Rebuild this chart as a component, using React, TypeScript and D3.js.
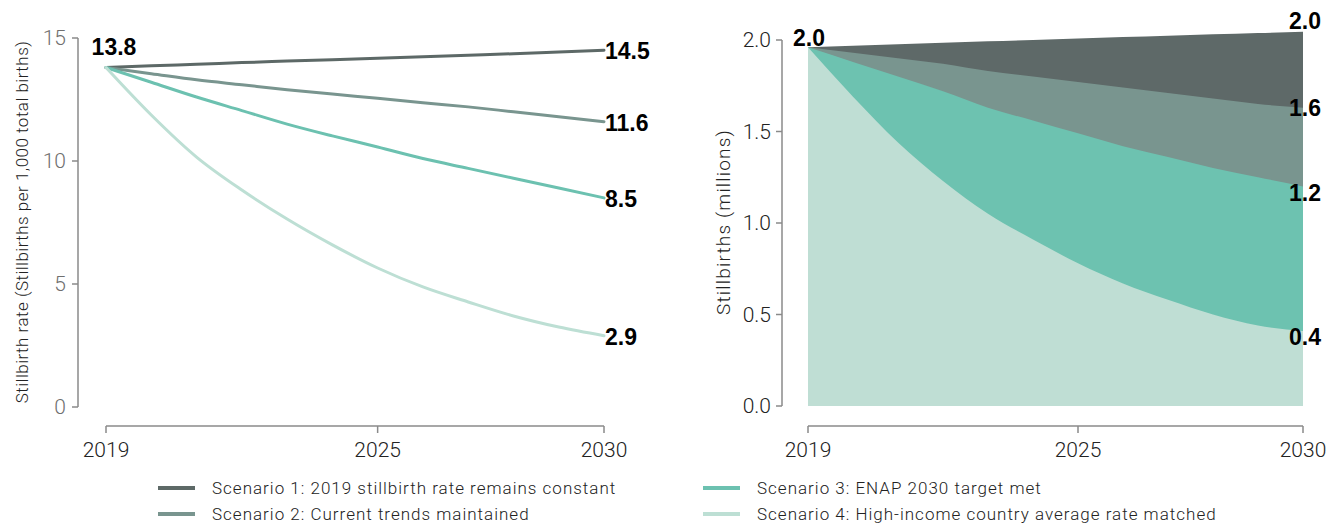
import React from "react";
import * as d3 from "d3";

const years = [2019, 2020, 2021, 2022, 2023, 2024, 2025, 2026, 2027, 2028, 2029, 2030];
const xTicks = [2019, 2025, 2030];

// Left: stillbirth rate per 1,000 total births
const rateS1 = [13.8, 13.87, 13.93, 14.0, 14.06, 14.12, 14.18, 14.24, 14.3, 14.36, 14.43, 14.5];
const rateS2 = [13.8, 13.55, 13.3, 13.1, 12.9, 12.72, 12.55, 12.37, 12.2, 12.0, 11.8, 11.6];
const rateS3 = [13.8, 13.2, 12.6, 12.05, 11.5, 11.02, 10.57, 10.1, 9.7, 9.3, 8.9, 8.5];
const rateS4 = [13.8, 11.87, 10.16, 8.82, 7.64, 6.59, 5.65, 4.88, 4.27, 3.7, 3.25, 2.9];
const rateTicks = [0, 5, 10, 15];

// Right: stillbirths (millions)
const countS1 = [1.96, 1.968, 1.977, 1.985, 1.993, 2.0, 2.008, 2.016, 2.023, 2.031, 2.038, 2.045];
const countS2 = [1.96, 1.93, 1.9, 1.87, 1.83, 1.8, 1.77, 1.74, 1.71, 1.68, 1.65, 1.63];
const countS3 = [1.96, 1.88, 1.8, 1.72, 1.63, 1.56, 1.49, 1.42, 1.36, 1.3, 1.25, 1.2];
const countS4 = [1.96, 1.69, 1.44, 1.23, 1.05, 0.91, 0.78, 0.67, 0.58, 0.5, 0.44, 0.41];
const countTicks = [0, 0.5, 1.0, 1.5, 2.0];

const seriesNames = [
  "Scenario 1: 2019 stillbirth rate remains constant",
  "Scenario 2: Current trends maintained",
  "Scenario 3: ENAP 2030 target met",
  "Scenario 4: High-income country average rate matched",
];
const lineColors = ["#5d6967", "#79958f", "#6cc1b0", "#bddfd4"];
const areaColors = ["#5e6968", "#79958f", "#6dc2b0", "#bfded4"];

const rateLabels = ["14.5", "11.6", "8.5", "2.9"];
const countLabels = ["2.0", "1.6", "1.2", "0.4"];

const LIGHT = "Roboto, 'Liberation Sans', sans-serif";
const BOLD = "'Liberation Sans', Arial, sans-serif";
const AXIS = "#8a8a8a";

export default function App() {
  const rateSeries = [rateS1, rateS2, rateS3, rateS4];
  const countSeries = [countS1, countS2, countS3, countS4];

  const xL = d3.scaleLinear().domain([2019, 2030]).range([106, 604]);
  const yL = d3.scaleLinear().domain([0, 15]).range([407, 38]);
  const xR = d3.scaleLinear().domain([2019, 2030]).range([808, 1303]);
  const yR = d3.scaleLinear().domain([0, 2]).range([406, 40]);

  const line = (vals: number[]) =>
    d3
      .line<number>()
      .x((_, i) => xL(years[i]))
      .y((v) => yL(v))
      .curve(d3.curveMonotoneX)(vals) as string;

  const area = (vals: number[]) =>
    d3
      .area<number>()
      .x((_, i) => xR(years[i]))
      .y0(yR(0))
      .y1((v) => yR(v))
      .curve(d3.curveMonotoneX)(vals) as string;

  const labelOffsetsR = [-11, 0, 7, 6];

  return (
    <svg
      width={1327}
      height={525}
      style={{ position: "absolute", left: 0, top: 0, background: "#fff" }}
    >
      {/* LEFT CHART */}
      <g>
        <line x1={78} x2={78} y1={yL(15)} y2={yL(0)} stroke={AXIS} strokeWidth={1.5} />
        {rateTicks.map((t) => (
          <g key={t}>
            <line x1={72} x2={78} y1={yL(t)} y2={yL(t)} stroke={AXIS} strokeWidth={1.5} />
            <text
              x={66}
              y={yL(t)}
              textAnchor="end"
              dominantBaseline="central"
              fontFamily={LIGHT}
              fontWeight={300}
              fontSize={21}
              fill="#6f6f6f"
            >
              {t}
            </text>
          </g>
        ))}
        <line x1={xL(2019)} x2={xL(2030)} y1={426} y2={426} stroke={AXIS} strokeWidth={1.5} />
        {xTicks.map((t) => (
          <g key={t}>
            <line x1={xL(t)} x2={xL(t)} y1={426} y2={433} stroke={AXIS} strokeWidth={1.5} />
            <text
              x={xL(t)}
              y={450}
              textAnchor="middle"
              dominantBaseline="central"
              fontFamily={LIGHT}
              fontWeight={300}
              fontSize={21}
              fill="#222"
            >
              {t}
            </text>
          </g>
        ))}
        <text
          transform={`translate(22,222) rotate(-90)`}
          textAnchor="middle"
          dominantBaseline="central"
          fontFamily={LIGHT}
          fontWeight={300}
          fontSize={17}
          letterSpacing={0.5}
          fill="#222"
        >
          Stillbirth rate (Stillbirths per 1,000 total births)
        </text>
        {rateSeries.map((vals, i) => (
          <path
            key={i}
            d={line(vals)}
            fill="none"
            stroke={lineColors[i]}
            strokeWidth={3}
            strokeLinecap="round"
          />
        ))}
        <text
          x={114}
          y={47}
          textAnchor="middle"
          dominantBaseline="central"
          fontFamily={BOLD}
          fontWeight={700}
          fontSize={23}
          fill="#000"
        >
          {rateS1[0].toFixed(1)}
        </text>
        {rateSeries.map((vals, i) => (
          <text
            key={i}
            x={xL(2030) + 1}
            y={yL(vals[vals.length - 1]) + 1}
            textAnchor="start"
            dominantBaseline="central"
            fontFamily={BOLD}
            fontWeight={700}
            fontSize={23}
            fill="#000"
          >
            {rateLabels[i]}
          </text>
        ))}
      </g>

      {/* RIGHT CHART */}
      <g>
        {countSeries.map((vals, i) => (
          <path key={i} d={area(vals)} fill={areaColors[i]} stroke="none" />
        ))}
        <line x1={782} x2={782} y1={yR(2)} y2={yR(0)} stroke={AXIS} strokeWidth={1.5} />
        {countTicks.map((t) => (
          <g key={t}>
            <line x1={776} x2={782} y1={yR(t)} y2={yR(t)} stroke={AXIS} strokeWidth={1.5} />
            <text
              x={771}
              y={yR(t)}
              textAnchor="end"
              dominantBaseline="central"
              fontFamily={LIGHT}
              fontWeight={300}
              fontSize={21}
              fill="#222"
            >
              {t.toFixed(1)}
            </text>
          </g>
        ))}
        <line x1={xR(2019)} x2={xR(2030)} y1={426} y2={426} stroke={AXIS} strokeWidth={1.5} />
        {xTicks.map((t) => (
          <g key={t}>
            <line x1={xR(t)} x2={xR(t)} y1={426} y2={433} stroke={AXIS} strokeWidth={1.5} />
            <text
              x={xR(t)}
              y={450}
              textAnchor="middle"
              dominantBaseline="central"
              fontFamily={LIGHT}
              fontWeight={300}
              fontSize={21}
              fill="#222"
            >
              {t}
            </text>
          </g>
        ))}
        <text
          transform={`translate(723,222) rotate(-90)`}
          textAnchor="middle"
          dominantBaseline="central"
          fontFamily={LIGHT}
          fontWeight={300}
          fontSize={19}
          letterSpacing={1.2}
          fill="#222"
        >
          Stillbirths (millions)
        </text>
        <text
          x={809}
          y={38}
          textAnchor="middle"
          dominantBaseline="central"
          fontFamily={BOLD}
          fontWeight={700}
          fontSize={23}
          fill="#000"
        >
          {countS1[0].toFixed(1)}
        </text>
        {countSeries.map((vals, i) => (
          <text
            key={i}
            x={xR(2030) + 2}
            y={yR(vals[vals.length - 1]) + labelOffsetsR[i]}
            textAnchor="middle"
            dominantBaseline="central"
            fontFamily={BOLD}
            fontWeight={700}
            fontSize={23}
            fill="#000"
          >
            {countLabels[i]}
          </text>
        ))}
      </g>

      {/* LEGEND */}
      {seriesNames.map((name, i) => {
        const col = i < 2 ? 0 : 1;
        const row = i % 2;
        const x0 = col === 0 ? 158 : 703;
        const y0 = 488 + row * 26;
        return (
          <g key={i}>
            <line x1={x0} x2={x0 + 37} y1={y0} y2={y0} stroke={lineColors[i]} strokeWidth={4} />
            <text
              x={x0 + 54}
              y={y0}
              dominantBaseline="central"
              fontFamily={LIGHT}
              fontWeight={300}
              fontSize={17}
              letterSpacing={1}
              fill="#222"
            >
              {name}
            </text>
          </g>
        );
      })}
    </svg>
  );
}
